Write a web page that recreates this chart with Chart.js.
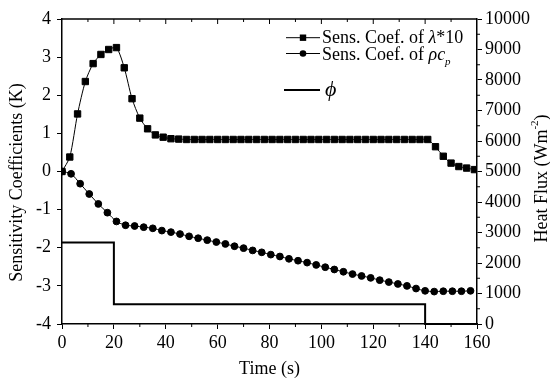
<!DOCTYPE html>
<html>
<head>
<meta charset="utf-8">
<title>Sensitivity coefficients</title>
<script src="https://cdn.jsdelivr.net/npm/chart.js@4.4.0/dist/chart.umd.min.js"></script>
<style>
  html, body { margin: 0; padding: 0; background: #fff; }
  #wrap { width: 550px; height: 383px; }
</style>
</head>
<body>
<div id="wrap"><canvas id="sensChart"></canvas></div>
<script>
/* ---------------------------------------------------
    Data
---------------------------------------------------*/
const lambdaTimes = [0, 3, 6, 9, 12, 15, 18, 21, 24, 27, 30, 33, 36, 39, 42,
  45, 48, 51, 54, 57, 60, 63, 66, 69, 72, 75, 78, 81, 84, 87, 90, 93, 96, 99,
  102, 105, 108, 111, 114, 117, 120, 123, 126, 129, 132, 135, 138, 141,
  144, 147, 150, 153, 156, 159];
const lambdaSens = [0, 0.38, 1.51, 2.36, 2.83, 3.07, 3.2, 3.25, 2.72, 1.91, 1.40, 1.12, 0.96, 0.90, 0.86,
  0.85, 0.84, 0.84, 0.84, 0.84, 0.84, 0.84, 0.84, 0.84, 0.84, 0.84, 0.84, 0.84, 0.84, 0.84, 0.84, 0.84, 0.84, 0.84,
  0.84, 0.84, 0.84, 0.84, 0.84, 0.84, 0.84, 0.84, 0.84, 0.84, 0.84, 0.84, 0.84, 0.84,
  0.65, 0.40, 0.22, 0.13, 0.09, 0.05];

const rhoTimes = [0, 3.5, 7, 10.5, 14, 17.5, 21, 24.5, 28, 31.5, 35, 38.5, 42,
  45.5, 49, 52.5, 56, 59.5, 63, 66.5, 70, 73.5, 77, 80.5, 84,
  87.5, 91, 94.5, 98, 101.5, 105, 108.5, 112, 115.5, 119, 122.5, 126,
  129.5, 133, 136.5, 140, 143.5, 147, 150.5, 154, 157.5];
const rhoSens = [0, -0.06, -0.32, -0.59, -0.85, -1.08, -1.31, -1.41, -1.43, -1.46, -1.49, -1.55, -1.59,
  -1.64, -1.70, -1.75, -1.80, -1.85, -1.90, -1.96, -2.01, -2.07, -2.12, -2.18, -2.23,
  -2.29, -2.34, -2.39, -2.45, -2.51, -2.57, -2.63, -2.69, -2.74, -2.79, -2.85, -2.90,
  -2.95, -3.00, -3.07, -3.13, -3.15, -3.14, -3.14, -3.14, -3.13];

const fluxTimes = [0, 20, 140, 160];
const fluxVals = [2670, 650, 0, 0];

const xTicks = [0, 20, 40, 60, 80, 100, 120, 140, 160];
const SERIF = "'Liberation Serif', 'Times New Roman', serif";

const pairs = (xs, ys) => xs.map((x, i) => ({ x: x, y: ys[i] }));

/* ---------------------------------------------------
    Frame, minor ticks, legend and y titles
---------------------------------------------------*/
const decorPlugin = {
  id: 'decor',
  afterDraw(chart) {
    const ctx = chart.ctx;
    const ca = chart.chartArea;
    const sx = chart.scales.x, sy2 = chart.scales.y2;
    ctx.save();
    ctx.strokeStyle = '#000';
    ctx.fillStyle = '#000';

    // top border
    ctx.lineWidth = 1.5;
    ctx.beginPath();
    ctx.moveTo(ca.left, ca.top);
    ctx.lineTo(ca.right, ca.top);
    ctx.stroke();

    // top ticks (inward) + bottom minor ticks
    ctx.lineWidth = 1;
    for (let t = 10; t < 160; t += 10) {
      const px = sx.getPixelForValue(t);
      const len = t % 20 === 0 ? 5 : 3;
      ctx.beginPath();
      ctx.moveTo(px, ca.top);
      ctx.lineTo(px, ca.top + len);
      ctx.stroke();
      if (t % 20 !== 0) {
        ctx.beginPath();
        ctx.moveTo(px, ca.bottom);
        ctx.lineTo(px, ca.bottom + 3);
        ctx.stroke();
      }
    }
    // right axis minor ticks
    for (let v = 500; v < 10000; v += 1000) {
      const py = sy2.getPixelForValue(v);
      ctx.beginPath();
      ctx.moveTo(ca.right, py);
      ctx.lineTo(ca.right + 3, py);
      ctx.stroke();
    }

    // legend
    const lx1 = ca.right - 191, lx2 = ca.right - 157, mx = (lx1 + lx2) / 2;
    const tx = ca.right - 155;
    const r1 = ca.top + 18.7, r2 = ca.top + 34.5, r3 = ca.top + 71;
    ctx.lineWidth = 1;
    [r1, r2].forEach(ry => {
      ctx.beginPath();
      ctx.moveTo(lx1, ry);
      ctx.lineTo(lx2, ry);
      ctx.stroke();
    });
    ctx.fillRect(mx - 3.2, r1 - 3.2, 6.4, 6.4);
    ctx.beginPath();
    ctx.arc(mx, r2, 3.3, 0, Math.PI * 2);
    ctx.fill();
    ctx.lineWidth = 2;
    ctx.beginPath();
    ctx.moveTo(lx1 - 2, r3);
    ctx.lineTo(lx2, r3);
    ctx.stroke();

    ctx.textBaseline = 'alphabetic';
    ctx.textAlign = 'left';
    const seg = (parts, x, y) => {
      parts.forEach(p => {
        ctx.font = p.font;
        ctx.fillText(p.text, x, y + (p.dy || 0));
        x += ctx.measureText(p.text).width;
      });
    };
    const norm = '18px ' + SERIF, ital = 'italic 18px ' + SERIF;
    seg([{ text: 'Sens. Coef. of ', font: norm }, { text: 'λ', font: ital }, { text: '*10', font: norm }], tx, r1 + 5.5);
    seg([{ text: 'Sens. Coef. of ', font: norm }, { text: 'ρc', font: ital },
         { text: 'p', font: 'italic 11px ' + SERIF, dy: 5 }], tx, r2 + 6);
    seg([{ text: 'ϕ', font: 'italic 22px ' + SERIF }], tx + 3, r3 + 6);

    // left title
    const midY = (ca.top + ca.bottom) / 2 + 11;
    ctx.save();
    ctx.translate(17, midY);
    ctx.rotate(-Math.PI / 2);
    ctx.textAlign = 'center';
    ctx.textBaseline = 'middle';
    ctx.font = norm;
    ctx.fillText('Sensitivity Coefficients (K)', 0, 0);
    ctx.restore();

    // right title with superscript
    ctx.save();
    ctx.translate(542, midY - 4);
    ctx.rotate(-Math.PI / 2);
    ctx.textBaseline = 'middle';
    ctx.textAlign = 'left';
    const main = 'Heat Flux (Wm', sup = '-2', close = ')';
    ctx.font = norm;
    const wMain = ctx.measureText(main).width, wClose = ctx.measureText(close).width;
    ctx.font = '11px ' + SERIF;
    const wSup = ctx.measureText(sup).width;
    let x0 = -(wMain + wSup + wClose) / 2;
    ctx.font = norm;
    ctx.fillText(main, x0, 0);
    x0 += wMain;
    ctx.font = '11px ' + SERIF;
    ctx.fillText(sup, x0, -7);
    x0 += wSup;
    ctx.font = norm;
    ctx.fillText(close, x0, 0);
    ctx.restore();

    ctx.restore();
  }
};

/* ---------------------------------------------------
    Chart
---------------------------------------------------*/
const tickFont = { family: SERIF, size: 18 };
const axisCommon = {
  grid: { drawOnChartArea: false, color: '#000', tickLength: 5, tickWidth: 1 },
  border: { color: '#000', width: 1.5 }
};

new Chart(document.getElementById('sensChart'), {
  type: 'line',
  data: {
    datasets: [
      {
        label: 'Sens. Coef. of λ*10',
        data: pairs(lambdaTimes, lambdaSens),
        yAxisID: 'y',
        borderColor: '#000',
        backgroundColor: '#000',
        borderWidth: 1,
        pointStyle: 'rect',
        pointRadius: 4.5,
        tension: 0.25
      },
      {
        label: 'Sens. Coef. of ρcp',
        data: pairs(rhoTimes, rhoSens),
        yAxisID: 'y',
        borderColor: '#000',
        backgroundColor: '#000',
        borderWidth: 1,
        pointStyle: 'circle',
        pointRadius: 3.4,
        tension: 0.25
      },
      {
        label: 'ϕ',
        data: pairs(fluxTimes, fluxVals),
        yAxisID: 'y2',
        borderColor: '#000',
        borderWidth: 2,
        pointRadius: 0,
        stepped: true,
        clip: false
      }
    ]
  },
  options: {
    responsive: true,
    maintainAspectRatio: false,
    animation: false,
    layout: { padding: { top: 19, left: 0, right: 0, bottom: 0 } },
    plugins: {
      legend: { display: false },
      tooltip: { enabled: false }
    },
    scales: {
      x: {
        ...axisCommon,
        type: 'linear',
        position: 'bottom',
        min: 0,
        max: 160,
        afterBuildTicks: s => { s.ticks = xTicks.map(v => ({ value: v })); },
        afterFit: s => { s.height = 59; },
        ticks: { font: tickFont, color: '#000', padding: 3, maxRotation: 0 },
        title: {
          display: true,
          text: 'Time (s)',
          color: '#000',
          font: { family: SERIF, size: 18, lineHeight: 1.2 },
          padding: { top: 0, bottom: 3 }
        }
      },
      y: {
        ...axisCommon,
        type: 'linear',
        position: 'left',
        min: -4,
        max: 4,
        afterFit: s => { s.width = 62; },
        ticks: { stepSize: 1, font: tickFont, color: '#000', padding: 6 }
      },
      y2: {
        ...axisCommon,
        type: 'linear',
        position: 'right',
        min: 0,
        max: 10000,
        afterFit: s => { s.width = 73; },
        ticks: {
          stepSize: 1000, font: tickFont, color: '#000', padding: 3,
          callback: v => String(v)
        }
      }
    }
  },
  plugins: [decorPlugin]
});
</script>
</body>
</html>
